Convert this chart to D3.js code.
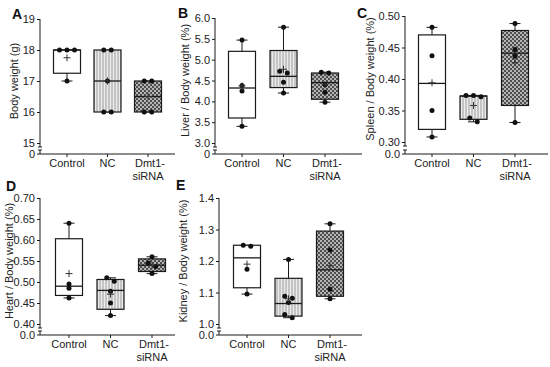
<!DOCTYPE html>
<html>
<head>
<meta charset="utf-8">
<script src="https://cdn.jsdelivr.net/npm/d3@7"></script>
<style>
  body { margin: 0; background: #fff; }
  svg { display: block; font-family: "Liberation Sans", Arial, sans-serif; }
</style>
</head>
<body>
<svg id="chart" width="550" height="367"></svg>
<script>
// groups on every panel
const groups = ["Control", "NC", "Dmt1-siRNA"];

// A - body weight (g)
const bodyTicks = [15, 16, 17, 18, 19];
const bodyPoints = [[18, 18, 18, 17], [18, 18, 17, 16, 16], [17, 17, 16, 16]];
const bodyBox = [[17, 17.25, 18, 18, 18], [16, 16, 17, 18, 18], [16, 16, 16.5, 17, 17]]; // min q1 med q3 max
const bodyMean = [17.75, 17, 16.5];

// B - liver / body weight (%)
const liverTicks = [3.0, 3.5, 4.0, 4.5, 5.0, 5.5, 6.0];
const liverPoints = [[5.47, 4.38, 4.25, 3.4], [5.78, 4.72, 4.68, 4.46, 4.2], [4.7, 4.68, 4.4, 4.22, 3.98]];
const liverBox = [[3.4, 3.6, 4.32, 5.2, 5.47], [4.2, 4.33, 4.6, 5.22, 5.78], [3.98, 4.05, 4.45, 4.68, 4.7]];
const liverMean = [4.37, 4.77, 4.4];

// C - spleen / body weight (%)
const spleenTicks = [0.30, 0.35, 0.40, 0.45, 0.50];
const spleenPoints = [[0.482, 0.437, 0.35, 0.308], [0.374, 0.374, 0.372, 0.338, 0.332], [0.488, 0.447, 0.436, 0.331]];
const spleenBox = [[0.308, 0.32, 0.393, 0.47, 0.482], [0.332, 0.336, 0.373, 0.373, 0.374], [0.331, 0.358, 0.441, 0.477, 0.488]];
const spleenMean = [0.394, 0.358, 0.426];

// D - heart / body weight (%)
const heartTicks = [0.40, 0.45, 0.50, 0.55, 0.60, 0.65, 0.70];
const heartPoints = [[0.64, 0.495, 0.485, 0.462], [0.51, 0.502, 0.478, 0.45, 0.42], [0.56, 0.545, 0.537, 0.52]];
const heartBox = [[0.462, 0.468, 0.49, 0.603, 0.64], [0.42, 0.435, 0.48, 0.506, 0.51], [0.52, 0.525, 0.54, 0.555, 0.56]];
const heartMean = [0.52, 0.471, 0.54];

// E - kidney / body weight (%)
const kidneyTicks = [1.0, 1.1, 1.2, 1.3, 1.4];
const kidneyPoints = [[1.25, 1.247, 1.174, 1.095], [1.205, 1.088, 1.082, 1.068, 1.03, 1.02], [1.318, 1.235, 1.11, 1.08]];
const kidneyBox = [[1.095, 1.115, 1.21, 1.25, 1.25], [1.02, 1.025, 1.065, 1.145, 1.205], [1.08, 1.088, 1.172, 1.295, 1.318]];
const kidneyMean = [1.19, 1.08, 1.185];

const panels = [
  { letter: "A", title: "Body weight (g)", ticks: bodyTicks, fmt: d3.format("d"), zeroLab: "0",
    points: bodyPoints, box: bodyBox, mean: bodyMean,
    ax: 40, top: 19, bot: 143, zero: 154, right: 175, cx: [67, 107, 148], lx: 12, ly: 19, tx: 18 },
  { letter: "B", title: "Liver / Body weight (%)", ticks: liverTicks, fmt: d3.format(".1f"), zeroLab: "0",
    points: liverPoints, box: liverBox, mean: liverMean,
    ax: 215, top: 18, bot: 143, zero: 154, right: 362, cx: [242, 283, 325], lx: 178, ly: 18, tx: 189 },
  { letter: "C", title: "Spleen / Body weight (%)", ticks: spleenTicks, fmt: d3.format(".2f"), zeroLab: "0.0",
    points: spleenPoints, box: spleenBox, mean: spleenMean,
    ax: 405, top: 16, bot: 142, zero: 154, right: 548, cx: [432, 473, 515], lx: 357, ly: 18, tx: 374 },
  { letter: "D", title: "Heart / Body weight (%)", ticks: heartTicks, fmt: d3.format(".2f"), zeroLab: "0.0",
    points: heartPoints, box: heartBox, mean: heartMean,
    ax: 40, top: 198, bot: 324, zero: 335, right: 175, cx: [69, 110, 152], lx: 6, ly: 191, tx: 13 },
  { letter: "E", title: "Kidney / Body weight (%)", ticks: kidneyTicks, fmt: d3.format(".1f"), zeroLab: "0.0",
    points: kidneyPoints, box: kidneyBox, mean: kidneyMean,
    ax: 219, top: 198, bot: 324, zero: 335, right: 362, cx: [247, 287, 330], lx: 176, ly: 190, tx: 187 }
];

const svg = d3.select("#chart");
const ink = "#1a1a1a";

// fill patterns
const defs = svg.append("defs");
let pNC = defs.append("pattern").attr("id", "pNC").attr("patternUnits", "userSpaceOnUse")
  .attr("width", 3).attr("height", 3);
pNC.append("rect").attr("width", 3).attr("height", 3).attr("fill", "#c4c4c4");
pNC.append("rect").attr("x", 2).attr("width", 1).attr("height", 3).attr("fill", "#ececec");

let pKD = defs.append("pattern").attr("id", "pKD").attr("patternUnits", "userSpaceOnUse")
  .attr("width", 4).attr("height", 4);
pKD.append("rect").attr("width", 4).attr("height", 4).attr("fill", "#4e4e4e");
pKD.append("rect").attr("width", 2).attr("height", 2).attr("fill", "#b4b4b4");
pKD.append("rect").attr("x", 2).attr("y", 2).attr("width", 2).attr("height", 2).attr("fill", "#b4b4b4");

const fills = ["#fff", "url(#pNC)", "url(#pKD)"];
const boxW = 27, capW = 11;

panels.forEach(function(p) {
  let y = d3.scaleLinear()
    .domain([p.ticks[0], p.ticks[p.ticks.length - 1]])
    .range([p.bot, p.top]);
  let x = d3.scalePoint().domain(groups).range([p.cx[0], p.cx[2]]);
  let g = svg.append("g");

  // y axis (broken between 0 and first tick)
  g.append("g")
    .attr("transform", "translate(" + p.ax + ",0)")
    .call(d3.axisLeft(y).tickValues(p.ticks).tickFormat(p.fmt).tickSize(3).tickPadding(2))
    .call(function(s) {
      s.select(".domain").attr("d", "M0," + p.top + "V" + (p.bot + 4)).attr("stroke", ink);
      s.selectAll(".tick line").attr("stroke", ink);
      s.selectAll("text").attr("font-size", 11).attr("fill", "#222").attr("font-family", null);
    });
  g.append("path")
    .attr("d", "M" + (p.ax - 2) + "," + (p.bot + 4) + "h4M" + (p.ax - 2) + "," + (p.zero - 4) + "h4" +
      "M" + p.ax + "," + (p.zero - 4) + "V" + p.zero + "M" + (p.ax - 3) + "," + p.zero + "H" + p.right)
    .attr("stroke", ink).attr("fill", "none");
  g.append("text").attr("x", p.ax - 5).attr("y", p.zero + 4)
    .attr("text-anchor", "end").attr("font-size", 11).attr("fill", "#222").text(p.zeroLab);

  // x ticks and labels
  groups.forEach(function(c) {
    g.append("line").attr("x1", x(c)).attr("x2", x(c)).attr("y1", p.zero).attr("y2", p.zero + 3).attr("stroke", ink);
    let t = g.append("text").attr("x", x(c)).attr("y", p.zero + 13)
      .attr("text-anchor", "middle").attr("font-size", 11).attr("fill", "#222");
    if (c === "Dmt1-siRNA") {
      t.append("tspan").attr("x", x(c) + 2).text("Dmt1-");
      t.append("tspan").attr("x", x(c)).attr("dy", 13).text("siRNA");
    } else {
      t.text(c);
    }
  });

  // boxes
  groups.forEach(function(c, i) {
    let b = p.box[i], cx = x(c);
    g.append("line").attr("x1", cx).attr("x2", cx).attr("y1", y(b[0])).attr("y2", y(b[4])).attr("stroke", ink);
    g.append("line").attr("x1", cx - capW / 2).attr("x2", cx + capW / 2).attr("y1", y(b[0])).attr("y2", y(b[0])).attr("stroke", ink);
    g.append("line").attr("x1", cx - capW / 2).attr("x2", cx + capW / 2).attr("y1", y(b[4])).attr("y2", y(b[4])).attr("stroke", ink);
    g.append("rect").attr("x", cx - boxW / 2).attr("y", y(b[3]))
      .attr("width", boxW).attr("height", Math.max(1, y(b[1]) - y(b[3])))
      .attr("fill", fills[i]).attr("stroke", ink).attr("stroke-width", 1.2);
    g.append("line").attr("x1", cx - boxW / 2).attr("x2", cx + boxW / 2).attr("y1", y(b[2])).attr("y2", y(b[2]))
      .attr("stroke", ink).attr("stroke-width", 1.3);

    // points, spread sideways when they overlap
    let pts = p.points[i].slice().sort(d3.descending);
    let clusters = [];
    pts.forEach(function(v) {
      let last = clusters[clusters.length - 1];
      if (last && Math.abs(y(last[0]) - y(v)) < 4) last.push(v); else clusters.push([v]);
    });
    clusters.forEach(function(cl) {
      cl.forEach(function(v, k) {
        let off = (k - (cl.length - 1) / 2) * 7.5;
        g.append("circle").attr("cx", cx + off).attr("cy", y(v)).attr("r", 2.5).attr("fill", "#111");
      });
    });

    // mean
    let my = y(p.mean[i]);
    g.append("path").attr("d", "M" + (cx - 3.5) + "," + my + "h7M" + cx + "," + (my - 3.5) + "v7")
      .attr("stroke", "#333").attr("stroke-width", 1);
  });

  // axis title and panel letter
  g.append("text")
    .attr("transform", "translate(" + p.tx + "," + ((p.top + p.bot) / 2) + ") rotate(-90)")
    .attr("text-anchor", "middle").attr("font-size", 11).attr("fill", "#222").text(p.title);
  g.append("text").attr("x", p.lx).attr("y", p.ly)
    .attr("font-size", 14).attr("font-weight", "bold").attr("fill", "#111").text(p.letter);
});
</script>
</body>
</html>
